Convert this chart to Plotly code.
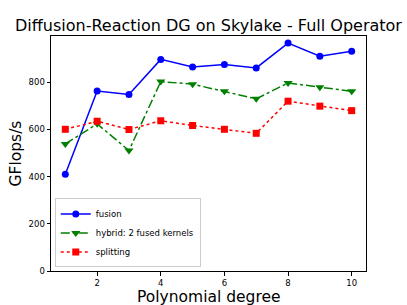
import plotly.graph_objects as go

degrees = [1, 2, 3, 4, 5, 6, 7, 8, 9, 10]
fusion = [410, 762, 747, 896, 864, 874, 860, 965, 909, 930]
hybrid = [538, 623, 510, 802, 791, 761, 729, 796, 778, 761]
splitting = [600, 634, 599, 636, 616, 600, 583, 719, 698, 679]

x_ticks = [2, 4, 6, 8, 10]
y_ticks = [0, 200, 400, 600, 800]

font = "DejaVu Sans"

fig = go.Figure()
fig.add_trace(go.Scatter(
    x=degrees, y=fusion, name="fusion", mode="lines+markers",
    line=dict(color="#0000ff", width=1.5, dash="solid"),
    marker=dict(symbol="circle", size=7, color="#0000ff")))
fig.add_trace(go.Scatter(
    x=degrees, y=hybrid, name="hybrid: 2 fused kernels", mode="lines+markers",
    line=dict(color="#008000", width=1.5, dash="dashdot"),
    marker=dict(symbol="triangle-down", size=8, color="#008000")))
fig.add_trace(go.Scatter(
    x=degrees, y=splitting, name="splitting", mode="lines+markers",
    line=dict(color="#ff0000", width=1.5, dash="dot"),
    marker=dict(symbol="square", size=7, color="#ff0000")))

axis_common = dict(
    showgrid=False, zeroline=False, showline=True, linecolor="black",
    linewidth=1, mirror=True, ticks="outside", ticklen=3.5, tickwidth=1,
    tickcolor="black", tickfont=dict(family=font, size=8.5, color="black"))

fig.update_layout(
    width=407, height=305,
    margin=dict(l=51, r=41, t=36, b=34),
    paper_bgcolor="white", plot_bgcolor="white",
    font=dict(family=font, color="black"),
    xaxis=dict(range=[0.55, 10.45], tickvals=x_ticks, **axis_common),
    yaxis=dict(range=[0, 995], tickvals=y_ticks, **axis_common),
    showlegend=True,
    legend=dict(x=0.012, y=0.015, xanchor="left", yanchor="bottom",
                bgcolor="rgba(255,255,255,0.8)", bordercolor="#cccccc",
                borderwidth=1, itemwidth=30, tracegroupgap=0,
                font=dict(family=font, size=8.5, color="black")),
    annotations=[
        dict(text="Diffusion-Reaction DG on Skylake - Full Operator",
             xref="paper", yref="paper", x=0.5, y=1 + (36 - 26) / 235,
             xanchor="center", yanchor="middle", showarrow=False,
             font=dict(family=font, size=16, color="black")),
        dict(text="Polynomial degree", xref="paper", yref="paper",
             x=0.5, y=-(297 - 271) / 235, xanchor="center", yanchor="middle",
             showarrow=False, font=dict(family=font, size=15.5, color="black")),
        dict(text="GFlops/s", xref="paper", yref="paper",
             x=-(51 - 15) / 315, y=0.5, xanchor="center", yanchor="middle",
             textangle=-90, showarrow=False,
             font=dict(family=font, size=15.5, color="black")),
    ],
)

fig.write_html("out.html", config={"displayModeBar": False},
               post_script="document.body.style.margin='0';document.body.style.overflow='hidden';")
